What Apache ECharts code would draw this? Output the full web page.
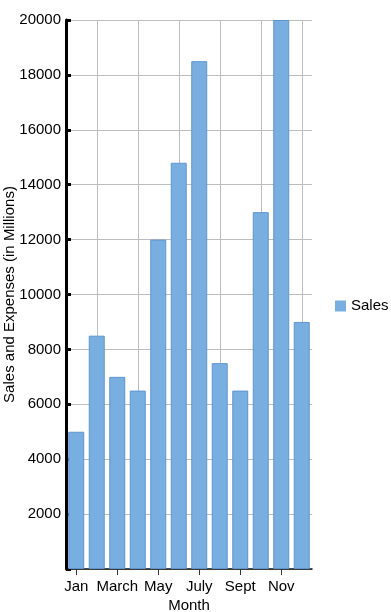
<!DOCTYPE html>
<html>
<head>
<meta charset="utf-8">
<script src="https://cdn.jsdelivr.net/npm/echarts@6/dist/echarts.min.js"></script>
<style>html,body{margin:0;padding:0;background:#fff}#c{width:391px;height:612px}</style>
</head>
<body>
<div id="c"></div>
<script>
var months = ['Jan','Feb','March','April','May','June','July','Aug','Sept','Oct','Nov','Dec'];
var sales = [5000, 8500, 7000, 6500, 12000, 14800, 18500, 7500, 6500, 13000, 20000, 9000];
var gridMonths = ['Feb','April','June','Aug','Oct','Dec'];
var yMin = 0, yMax = 20000, yStep = 2000;

var font = '"Liberation Sans", Arial, Helvetica, sans-serif';
var fs = 15;
var chart = echarts.init(document.getElementById('c'), null, {renderer: 'canvas'});
chart.setOption({
  animation: false,
  textStyle: {fontFamily: font},
  grid: {left: 66, right: 79, top: 20, bottom: 43, containLabel: false, outerBoundsMode: 'none'},
  legend: {
    data: ['Sales'], left: 335, top: 'middle', orient: 'vertical', padding: 0,
    itemWidth: 11, itemHeight: 11, itemGap: 4, icon: 'rect',
    itemStyle: {borderWidth: 0},
    textStyle: {fontSize: fs, color: '#000', fontFamily: font}
  },
  xAxis: {
    type: 'category', data: months, boundaryGap: true,
    name: 'Month', nameLocation: 'middle', nameGap: 29, nameMoveOverlap: false,
    nameTextStyle: {fontSize: fs, color: '#000', fontFamily: font},
    axisLine: {show: true, lineStyle: {color: '#111', width: 1.5}},
    axisTick: {show: true, alignWithLabel: true, interval: 1, length: 6, lineStyle: {color: '#333', width: 1}},
    axisLabel: {interval: 1, fontSize: fs, color: '#000', margin: 10, fontFamily: font},
    splitLine: {show: false}
  },
  yAxis: {
    type: 'value', min: yMin, max: yMax, interval: yStep,
    name: 'Sales and Expenses (in Millions)', nameLocation: 'middle', nameGap: 49, nameMoveOverlap: false,
    nameTextStyle: {fontSize: fs, color: '#000', fontFamily: font},
    axisLine: {show: true, lineStyle: {color: '#000', width: 3}},
    axisTick: {show: true, inside: true, length: 5, lineStyle: {color: '#000', width: 3}},
    axisLabel: {fontSize: fs, color: '#000', margin: 5, fontFamily: font,
      formatter: function (v) { return v === 0 ? '' : String(v); }},
    splitLine: {show: true, lineStyle: {color: '#bdbdbd', width: 1}}
  },
  series: [
    {
      name: 'grid', type: 'line', data: [], silent: true,
      markLine: {
        silent: true, z: 1, symbol: ['none','none'], label: {show: false},
        lineStyle: {color: '#bdbdbd', width: 1, type: 'solid'},
        emphasis: {disabled: true},
        data: gridMonths.map(function (m) { return {xAxis: m}; })
      }
    },
    {
      name: 'Sales', type: 'bar', data: sales, barCategoryGap: '22%', z: 3,
      itemStyle: {color: '#79aee1', borderColor: '#5f95cf', borderWidth: 1}
    }
  ]
});
</script>
</body>
</html>
